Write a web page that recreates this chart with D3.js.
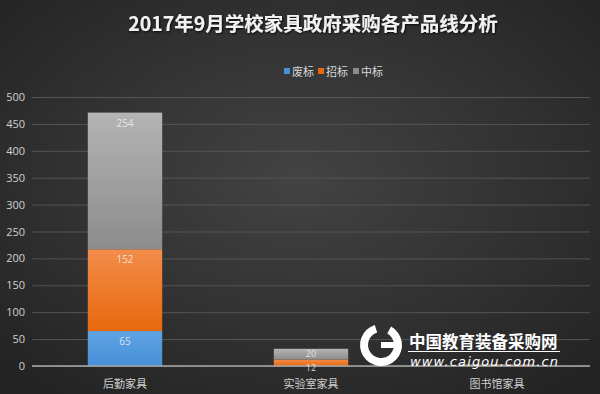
<!DOCTYPE html>
<html>
<head>
<meta charset="utf-8">
<script src="https://cdn.jsdelivr.net/npm/d3@7/dist/d3.min.js"></script>
<style>
  body { margin: 0; background: #2b2b2b; }
  svg { display: block; font-family: "Noto Sans CJK SC", "Noto Sans", sans-serif; }
</style>
</head>
<body>
<svg id="chart" width="600" height="394"></svg>
<script>
const categories = ['后勤家具', '实验室家具', '图书馆家具']
const seriesNames = ['废标', '招标', '中标']
const feibiao = [65, 0, 0]
const zhaobiao = [152, 12, 2]
const zhongbiao = [254, 20, 1]
const yTicks = [0, 50, 100, 150, 200, 250, 300, 350, 400, 450, 500]

const width = 600
const height = 394
const margin = { top: 97, right: 10, bottom: 28, left: 32 }

const svg = d3.select('#chart')
const defs = svg.append('defs')

// background
const bg = defs.append('radialGradient').attr('id', 'bg')
    .attr('cx', '50%').attr('cy', '45%').attr('r', '70%')
bg.append('stop').attr('offset', '0%').attr('stop-color', '#434343')
bg.append('stop').attr('offset', '100%').attr('stop-color', '#232323')
svg.append('rect').attr('width', width).attr('height', height).attr('fill', 'url(#bg)')

// bar gradients
const colors = [['#5fa3e2', '#4690d8'], ['#f28d4a', '#e8680e'], ['#b4b4b4', '#8c8c8c']]
colors.forEach((c, i) => {
    const gr = defs.append('linearGradient').attr('id', 'g' + i)
        .attr('x1', 0).attr('y1', 0).attr('x2', 0).attr('y2', 1)
    gr.append('stop').attr('offset', '0%').attr('stop-color', c[0])
    gr.append('stop').attr('offset', '100%').attr('stop-color', c[1])
})

const shadow = defs.append('filter').attr('id', 'shadow')
shadow.append('feDropShadow').attr('dx', 1).attr('dy', 1).attr('stdDeviation', 1)
    .attr('flood-color', '#000').attr('flood-opacity', 0.8)

const rows = categories.map((c, i) => ({ cat: c, '废标': feibiao[i], '招标': zhaobiao[i], '中标': zhongbiao[i] }))
const stacked = d3.stack().keys(seriesNames)(rows)

const x = d3.scaleBand().domain(categories).range([margin.left, width - margin.right]).padding(0)
const y = d3.scaleLinear().domain([0, 500]).range([height - margin.bottom, margin.top])
const barW = x.bandwidth() * 0.4

// gridlines
const g = svg.append('g')
g.append('g')
    .attr('transform', `translate(${margin.left},0)`)
    .call(d3.axisLeft(y).tickValues(yTicks).tickSize(-(width - margin.left - margin.right)).tickPadding(7))
    .call(a => a.select('.domain').remove())
    .call(a => a.selectAll('.tick line').attr('stroke', '#555').attr('stroke-width', 1))
    .call(a => a.selectAll('.tick text').attr('fill', '#d0d0d0').attr('font-size', '11px')
        .attr('font-family', 'Open Sans, sans-serif'))

// bars
stacked.forEach((s, si) => {
    g.append('g').selectAll('rect')
        .data(s)
        .join('rect')
        .attr('x', d => x(d.data.cat) + (x.bandwidth() - barW) / 2)
        .attr('y', d => y(d[1]))
        .attr('width', barW)
        .attr('height', d => y(d[0]) - y(d[1]))
        .attr('fill', 'url(#g' + si + ')')
})

// baseline
g.append('line')
    .attr('x1', margin.left).attr('x2', width - margin.right)
    .attr('y1', y(0)).attr('y2', y(0))
    .attr('stroke', '#a8a8a8').attr('stroke-width', 1.5)

// data labels (small segments get a smaller label so they don't collide)
const small = d => d[1] - d[0] < 30
stacked.forEach((s, si) => {
    g.append('g').selectAll('text')
        .data(s.filter(d => d[1] - d[0] >= 10))
        .join('text')
        .attr('x', d => x(d.data.cat) + x.bandwidth() / 2)
        .attr('y', d => y(d[1]) + (small(d) ? (si === 2 ? 8.5 : 11) : 14))
        .attr('text-anchor', 'middle')
        .attr('fill', '#f0f0f0')
        .attr('fill-opacity', 0.85)
        .attr('font-size', d => small(d) ? '9px' : '10px')
        .attr('font-family', 'Open Sans, sans-serif')
        .text(d => d[1] - d[0])
})

// category labels
g.append('g').selectAll('text')
    .data(categories)
    .join('text')
    .attr('x', d => x(d) + x.bandwidth() / 2)
    .attr('y', height - 6)
    .attr('text-anchor', 'middle')
    .attr('fill', '#d0d0d0')
    .attr('font-size', '11px')
    .text(d => d)

// title
svg.append('text')
    .attr('x', 313).attr('y', 31)
    .attr('text-anchor', 'middle')
    .attr('fill', '#f2f2f2')
    .attr('font-size', '19.5px')
    .attr('font-weight', 'bold')
    .attr('filter', 'url(#shadow)')
    .text('2017年9月学校家具政府采购各产品线分析')

// legend
const legendX = [284, 318, 353]
const legend = svg.append('g')
seriesNames.forEach((n, i) => {
    legend.append('rect')
        .attr('x', legendX[i]).attr('y', 68)
        .attr('width', 6).attr('height', 6)
        .attr('fill', colors[i][1])
    legend.append('text')
        .attr('x', legendX[i] + 8).attr('y', 76)
        .attr('fill', '#d8d8d8')
        .attr('font-size', '11px')
        .text(n)
})

// watermark
const wm = svg.append('g').attr('fill', '#ffffff')
wm.append('path')
    .attr('d', d3.arc()({ innerRadius: 13, outerRadius: 21, startAngle: 0.5, endAngle: 2 * Math.PI - 0.3 }))
    .attr('transform', 'translate(381,345)')
wm.append('rect').attr('x', 381).attr('y', 342).attr('width', 14).attr('height', 6)
wm.append('text')
    .attr('x', 409).attr('y', 348)
    .attr('font-size', '16.5px')
    .attr('font-weight', 'bold')
    .text('中国教育装备采购网')
wm.append('line')
    .attr('x1', 408).attr('x2', 560).attr('y1', 351.5).attr('y2', 351.5)
    .attr('stroke', '#ffffff').attr('stroke-width', 1)
wm.append('text')
    .attr('x', 410).attr('y', 366)
    .attr('font-size', '13px')
    .attr('font-style', 'italic')
    .attr('font-family', 'DejaVu Sans, sans-serif')
    .attr('textLength', 148)
    .text('www.caigou.com.cn')
</script>
</body>
</html>
